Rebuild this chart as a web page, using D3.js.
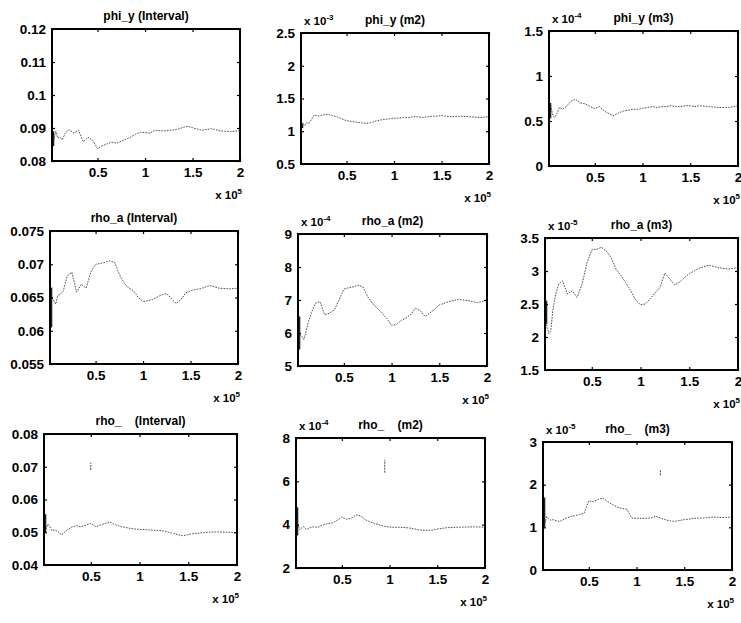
<!DOCTYPE html>
<html>
<head>
<meta charset="utf-8">
<script src="https://cdn.jsdelivr.net/npm/d3@7"></script>
<style>
  html, body { margin: 0; padding: 0; background: #fff; }
  svg { display: block; }
  text { font-family: "Liberation Sans", Arial, sans-serif; fill: #000; }
</style>
</head>
<body>
<svg id="chart" width="741" height="623"></svg>
<script>
// ---------- DATA (x in units of 10^5) ----------
const xGrid = [0.02,0.04,0.06,0.08,0.1,0.13,0.16,0.2,0.25,0.3,0.35,0.4,0.45,0.5,0.55,0.6,0.65,0.7,0.75,0.8,0.85,0.9,0.95,1.0,1.05,1.1,1.15,1.2,1.25,1.3,1.35,1.4,1.45,1.5,1.55,1.6,1.7,1.8,1.9,2.0];

const phiYInterval = [0.0885,0.0865,0.089,0.087,0.0872,0.0865,0.0885,0.0895,0.0885,0.0893,0.0858,0.0872,0.0862,0.0838,0.0846,0.0852,0.0857,0.0854,0.086,0.0866,0.0873,0.0881,0.0887,0.0886,0.0884,0.0893,0.0892,0.0891,0.0893,0.0894,0.0897,0.0902,0.0905,0.0901,0.0897,0.0893,0.0898,0.0891,0.0889,0.0892];
const phiYM2 = [1.08,1.12,1.09,1.13,1.12,1.18,1.25,1.23,1.25,1.26,1.24,1.22,1.19,1.16,1.15,1.14,1.13,1.12,1.13,1.15,1.17,1.18,1.19,1.20,1.20,1.21,1.21,1.22,1.22,1.21,1.22,1.23,1.23,1.24,1.23,1.22,1.23,1.22,1.21,1.22];
const phiYM3 = [0.62,0.66,0.56,0.54,0.58,0.65,0.63,0.66,0.72,0.74,0.70,0.69,0.66,0.64,0.66,0.61,0.58,0.56,0.59,0.61,0.62,0.63,0.63,0.64,0.65,0.66,0.65,0.66,0.66,0.67,0.66,0.66,0.67,0.67,0.66,0.67,0.66,0.65,0.65,0.67];
const rhoAInterval = [0.0662,0.0651,0.0645,0.064,0.0652,0.0655,0.066,0.0682,0.0688,0.0658,0.067,0.0664,0.0688,0.07,0.0701,0.0703,0.0705,0.0703,0.0685,0.0672,0.0664,0.066,0.065,0.0644,0.0645,0.0647,0.0651,0.0654,0.0656,0.0648,0.0641,0.0647,0.0657,0.066,0.0662,0.0663,0.0668,0.0664,0.0663,0.0664];
const rhoAM2 = [6.3,5.95,5.9,5.8,6.0,6.35,6.6,6.9,6.95,6.55,6.6,6.7,7.0,7.33,7.37,7.4,7.45,7.4,7.1,6.9,6.75,6.6,6.44,6.24,6.25,6.38,6.45,6.55,6.75,6.68,6.5,6.6,6.72,6.85,6.9,6.95,7.02,6.98,6.92,7.0];
const rhoAM3 = [2.4,2.15,2.05,2.1,2.4,2.65,2.8,2.85,2.65,2.7,2.6,2.8,3.12,3.32,3.33,3.36,3.3,3.2,3.02,2.93,2.82,2.7,2.56,2.49,2.5,2.58,2.67,2.75,2.97,2.88,2.79,2.83,2.9,2.96,3.0,3.04,3.09,3.05,3.03,3.05];
const rhoInterval = [0.0535,0.051,0.0525,0.0517,0.0505,0.0507,0.0503,0.0492,0.0505,0.0515,0.052,0.0517,0.0522,0.0527,0.0517,0.0522,0.0527,0.0531,0.0523,0.0518,0.0515,0.0512,0.051,0.0509,0.0508,0.0507,0.0506,0.0505,0.0504,0.05,0.0496,0.0492,0.0489,0.0493,0.0496,0.0497,0.05,0.0501,0.05,0.0499];
const rhoM2 = [4.3,4.0,3.77,3.85,3.92,3.77,3.85,3.9,3.88,3.98,4.05,4.08,4.2,4.35,4.25,4.3,4.45,4.4,4.22,4.12,4.05,3.98,3.92,3.89,3.88,3.88,3.87,3.85,3.82,3.76,3.74,3.74,3.75,3.8,3.83,3.86,3.88,3.89,3.9,3.88];
const rhoM3 = [1.5,1.1,1.25,1.2,1.17,1.18,1.15,1.14,1.2,1.25,1.27,1.3,1.33,1.62,1.6,1.66,1.68,1.6,1.53,1.47,1.44,1.42,1.22,1.21,1.21,1.21,1.22,1.26,1.22,1.18,1.15,1.14,1.16,1.18,1.19,1.21,1.22,1.24,1.23,1.24];

// dense start-up scatter (low/high) and isolated spikes
const startBandLow  = [0.0845,1.05,0.53,0.0605,5.5,2.2,0.05,3.5,1.0];
const startBandHigh = [0.089,1.12,0.7,0.0665,6.5,2.55,0.0555,4.8,1.7];
const spikeX    = [null,null,null,null,null,null,0.5,0.95,1.25];
const spikeLow  = [null,null,null,null,null,null,0.069,6.4,2.22];
const spikeHigh = [null,null,null,null,null,null,0.0712,7.0,2.35];

const titles = ["phi_y (Interval)","phi_y (m2)","phi_y (m3)","rho_a (Interval)","rho_a (m2)","rho_a (m3)","rho_    (Interval)","rho_    (m2)","rho_    (m3)"];
const yExponents = ["","-3","-4","","-4","-5","","-4","-5"];
const yDomains = [[0.08,0.12],[0.5,2.5],[0,1.5],[0.055,0.075],[5,9],[1.5,3.5],[0.04,0.08],[2,8],[0,3]];
const yTicks = [
  [0.08,0.09,0.1,0.11,0.12],
  [0.5,1,1.5,2,2.5],
  [0,0.5,1,1.5],
  [0.055,0.06,0.065,0.07,0.075],
  [5,6,7,8,9],
  [1.5,2,2.5,3,3.5],
  [0.04,0.05,0.06,0.07,0.08],
  [2,4,6,8],
  [0,1,2,3]
];
const xTicks = [0.5,1,1.5,2];
const xDomain = [0.02,2];
const series = [phiYInterval,phiYM2,phiYM3,rhoAInterval,rhoAM2,rhoAM3,rhoInterval,rhoM2,rhoM3];

// ---------- LAYOUT (pixel boxes: left, top, right, bottom) ----------
const boxes = [
  [52,29,240,161],[301,33,489,164],[549,31,738,166],
  [50,231,238,364],[298,234,487,366],[545,238,738,370],
  [44,434,237,565],[296,438,485,568],[543,442,732,570]
];
const titleDx = [0,0,0,-10,0,0,0,0,0];

const svg = d3.select("#chart");
const fmt = v => String(+v.toFixed(4));

series.forEach((vals, i) => {
  const [L,T,R,B] = boxes[i];
  const x = d3.scaleLinear().domain(xDomain).range([L,R]);
  const y = d3.scaleLinear().domain(yDomains[i]).range([B,T]);
  const g = svg.append("g");

  const cid = "clip"+i;
  svg.append("clipPath").attr("id",cid).append("rect")
    .attr("x",L).attr("y",T).attr("width",R-L).attr("height",B-T);

  const plot = g.append("g").attr("clip-path",`url(#${cid})`);
  const pts = xGrid.map((xv,k)=>[xv, vals[k]]);
  plot.append("path")
    .datum(pts)
    .attr("fill","none")
    .attr("stroke","#3a3a3a")
    .attr("stroke-width",0.9)
    .attr("stroke-dasharray","1.6 1.2")
    .attr("d", d3.line().x(d=>x(d[0])).y(d=>y(d[1])));

  plot.append("line")
    .attr("x1",x(xGrid[0])+1.5).attr("x2",x(xGrid[0])+1.5)
    .attr("y1",y(startBandLow[i])).attr("y2",y(startBandHigh[i]))
    .attr("stroke","#222").attr("stroke-width",1.6);

  if (spikeX[i] !== null) {
    plot.append("line")
      .attr("x1",x(spikeX[i])).attr("x2",x(spikeX[i]))
      .attr("y1",y(spikeLow[i])).attr("y2",y(spikeHigh[i]))
      .attr("stroke","#444").attr("stroke-width",1)
      .attr("stroke-dasharray","2 1");
  }

  const tl = 3;
  const axB = d3.axisBottom(x).tickValues(xTicks).tickSize(-tl).tickPadding(6).tickFormat(fmt);
  const axT = d3.axisTop(x).tickValues(xTicks).tickSize(-tl).tickFormat("");
  const axL = d3.axisLeft(y).tickValues(yTicks[i]).tickSize(-tl).tickPadding(6).tickFormat(fmt);
  const axR = d3.axisRight(y).tickValues(yTicks[i]).tickSize(-tl).tickFormat("");

  const styleAxis = sel => {
    sel.select(".domain").remove();
    sel.selectAll(".tick line").attr("stroke","#000").attr("stroke-width",1.2);
    sel.selectAll("text").attr("font-size",13.5).attr("font-weight","bold").attr("fill","#000")
      .style("font-family","'Liberation Sans', Arial, sans-serif");
  };
  g.append("g").attr("transform",`translate(0,${B})`).call(axB).call(styleAxis);
  g.append("g").attr("transform",`translate(0,${T})`).call(axT).call(styleAxis);
  g.append("g").attr("transform",`translate(${L},0)`).call(axL).call(styleAxis);
  g.append("g").attr("transform",`translate(${R},0)`).call(axR).call(styleAxis);

  g.append("rect").attr("x",L).attr("y",T).attr("width",R-L).attr("height",B-T)
    .attr("fill","none").attr("stroke","#000").attr("stroke-width",2);

  g.append("text")
    .attr("x",(L+R)/2 + titleDx[i]).attr("y",T-9)
    .attr("text-anchor","middle")
    .attr("font-size",12).attr("font-weight","bold")
    .style("white-space","pre").attr("xml:space","preserve")
    .text(titles[i]);

  if (yExponents[i]) {
    const t = g.append("text").attr("x",L+3).attr("y",T-8)
      .attr("font-size",11.5).attr("font-weight","bold");
    t.append("tspan").text("x 10");
    t.append("tspan").attr("dy",-5).attr("font-size",8).text(yExponents[i]);
  }

  const tx = g.append("text").attr("x",R+2).attr("y",B+38)
    .attr("font-size",11.5).attr("font-weight","bold").attr("text-anchor","end");
  tx.append("tspan").text("x 10");
  tx.append("tspan").attr("dy",-5).attr("font-size",8).text("5");
});
</script>
</body>
</html>
